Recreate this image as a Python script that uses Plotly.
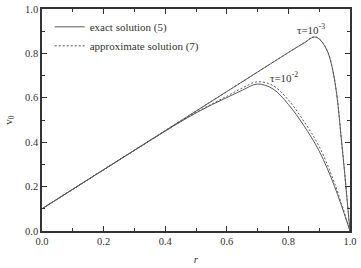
import plotly.graph_objects as go

r_exact3 = [0.0, 0.2, 0.4, 0.6, 0.8, 0.84, 0.86, 0.87, 0.88, 0.89, 0.90, 0.91, 0.92, 0.93, 0.94, 0.95, 0.96, 0.97, 0.98, 0.99, 1.0]
v_exact3 = [0.1, 0.276, 0.452, 0.628, 0.804, 0.838, 0.855, 0.866, 0.873, 0.873, 0.865, 0.850, 0.828, 0.798, 0.750, 0.680, 0.580, 0.440, 0.300, 0.150, 0.0]
r_appr3 = r_exact3
v_appr3 = [0.1, 0.276, 0.452, 0.628, 0.804, 0.839, 0.856, 0.867, 0.874, 0.874, 0.866, 0.851, 0.830, 0.800, 0.752, 0.682, 0.583, 0.443, 0.302, 0.151, 0.0]

r_2 = [0.0, 0.2, 0.4, 0.45, 0.5, 0.55, 0.6, 0.65, 0.7, 0.75, 0.8, 0.85, 0.9, 0.95, 1.0]
v_exact2 = [0.1, 0.276, 0.450, 0.492, 0.532, 0.568, 0.601, 0.634, 0.662, 0.640, 0.570, 0.475, 0.360, 0.200, 0.0]
v_appr2 = [0.1, 0.276, 0.450, 0.493, 0.534, 0.571, 0.607, 0.644, 0.672, 0.655, 0.590, 0.495, 0.380, 0.215, 0.0]

x_ticks = [0.0, 0.2, 0.4, 0.6, 0.8, 1.0]
y_ticks = [0.0, 0.2, 0.4, 0.6, 0.8, 1.0]

col = "#5a5a5a"
font = "Liberation Serif, serif"
fig = go.Figure()
fig.add_trace(go.Scatter(x=r_exact3, y=v_exact3, mode="lines", line=dict(color=col, width=1, shape="spline", smoothing=0.8),
                         name="exact solution (5)"))
fig.add_trace(go.Scatter(x=r_appr3, y=v_appr3, mode="lines", line=dict(color=col, width=1, dash="2px,2px", shape="spline", smoothing=0.8),
                         name="approximate solution (7)"))
fig.add_trace(go.Scatter(x=r_2, y=v_exact2, mode="lines", line=dict(color=col, width=1, shape="spline", smoothing=1.0),
                         showlegend=False))
fig.add_trace(go.Scatter(x=r_2, y=v_appr2, mode="lines", line=dict(color=col, width=1, dash="2px,2px", shape="spline", smoothing=1.0),
                         showlegend=False))

axis_common = dict(showline=True, linecolor="#333", linewidth=1.5, mirror="allticks", ticks="inside",
                   ticklen=5, tickwidth=1.2, tickcolor="#333", showgrid=False, zeroline=False,
                   ticklabeloverflow="allow",
                   tickfont=dict(family=font, size=10.5, color="#333"),
                   minor=dict(ticks="inside", ticklen=3, tickcolor="#333", dtick=0.1, showgrid=False))
fig.update_xaxes(range=[0, 1.0], tickvals=x_ticks, ticktext=[f"{t:.1f}" for t in x_ticks],
                 title=dict(text="<i>r</i>", font=dict(family=font, size=11, color="#333"), standoff=9), **axis_common)
fig.update_yaxes(range=[0, 1.0], tickvals=y_ticks, ticktext=[f"{t:.1f}" for t in y_ticks],
                 title=dict(text="v<sub>0</sub>", font=dict(family=font, size=11, color="#333"), standoff=10), **axis_common)

fig.add_annotation(x=0.874, y=0.91, text="τ=10<sup>-3</sup>", showarrow=False,
                   font=dict(family=font, size=11, color="#333"))
fig.add_annotation(x=0.787, y=0.695, text="τ=10<sup>-2</sup>", showarrow=False,
                   font=dict(family=font, size=11, color="#333"))

fig.update_layout(width=361, height=268, margin=dict(l=42, r=4, t=6, b=31),
                  paper_bgcolor="white", plot_bgcolor="white",
                  legend=dict(x=0.025, y=0.985, xanchor="left", yanchor="top", bgcolor="rgba(0,0,0,0)",
                              font=dict(family=font, size=11, color="#333"), tracegroupgap=0,
                              itemwidth=30))
fig.write_html("out.html")
